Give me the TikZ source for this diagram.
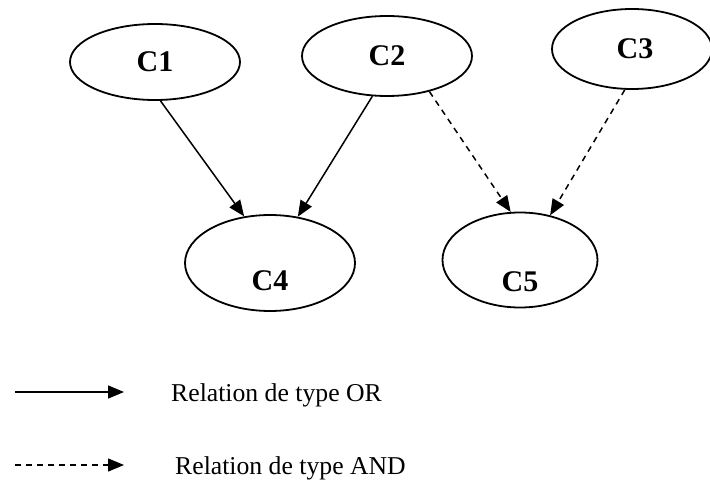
\documentclass[tikz,border=0pt]{standalone}
\usepackage{fontspec}
\setmainfont{Liberation Serif}
\usetikzlibrary{arrows.meta,shapes.geometric}
\begin{document}
\begin{tikzpicture}[x=1pt,y=-1pt,
  concept/.style={draw=black,line width=1.8pt,ellipse,inner sep=0pt,font=\fontsize{30}{30}\selectfont\bfseries},
  rel/.style={line width=1.5pt,-{Triangle[length=16pt,width=13pt]}},
  anddash/.style={rel,dash pattern=on 6pt off 5pt},
  legtext/.style={anchor=base west,inner sep=0pt,font=\fontsize{25.7}{26}\selectfont}]
\useasboundingbox (0,0) rectangle (710,481);
\node[concept,minimum width=170pt,minimum height=76pt] (C1) at (155,62) {C1};
\node[concept,minimum width=170pt,minimum height=80pt] (C2) at (387,56) {C2};
\node[concept,minimum width=160pt,minimum height=80pt] (C3) at (632,49) {\hspace*{6pt}C3};
\node[concept,minimum width=170pt,minimum height=96pt,label={[yshift=-18pt,font=\fontsize{30}{30}\selectfont\bfseries]center:C4}] (C4) at (270,263) {};
\node[concept,minimum width=155pt,minimum height=95pt,label={[yshift=-22pt,font=\fontsize{30}{30}\selectfont\bfseries]center:C5}] (C5) at (520,260) {};
\draw[rel] (C1.-82) -- (C4.119);
\draw[rel] (C2.-110) -- (C4.59);
\draw[anddash] (C2.-40) -- (C5.101);
\draw[anddash] (C3.-100) -- (C5.56);
\coordinate (orA) at (15,392);
\coordinate (orB) at (124,392);
\coordinate (andA) at (15,465);
\coordinate (andB) at (124,465);
\draw[rel] (orA) -- (orB);
\draw[anddash] (andA) -- (andB);
\node[legtext] (orT) at (171,401) {Relation de type OR};
\node[legtext] (andT) at (175,474) {Relation de type AND};
\end{tikzpicture}
\end{document}
